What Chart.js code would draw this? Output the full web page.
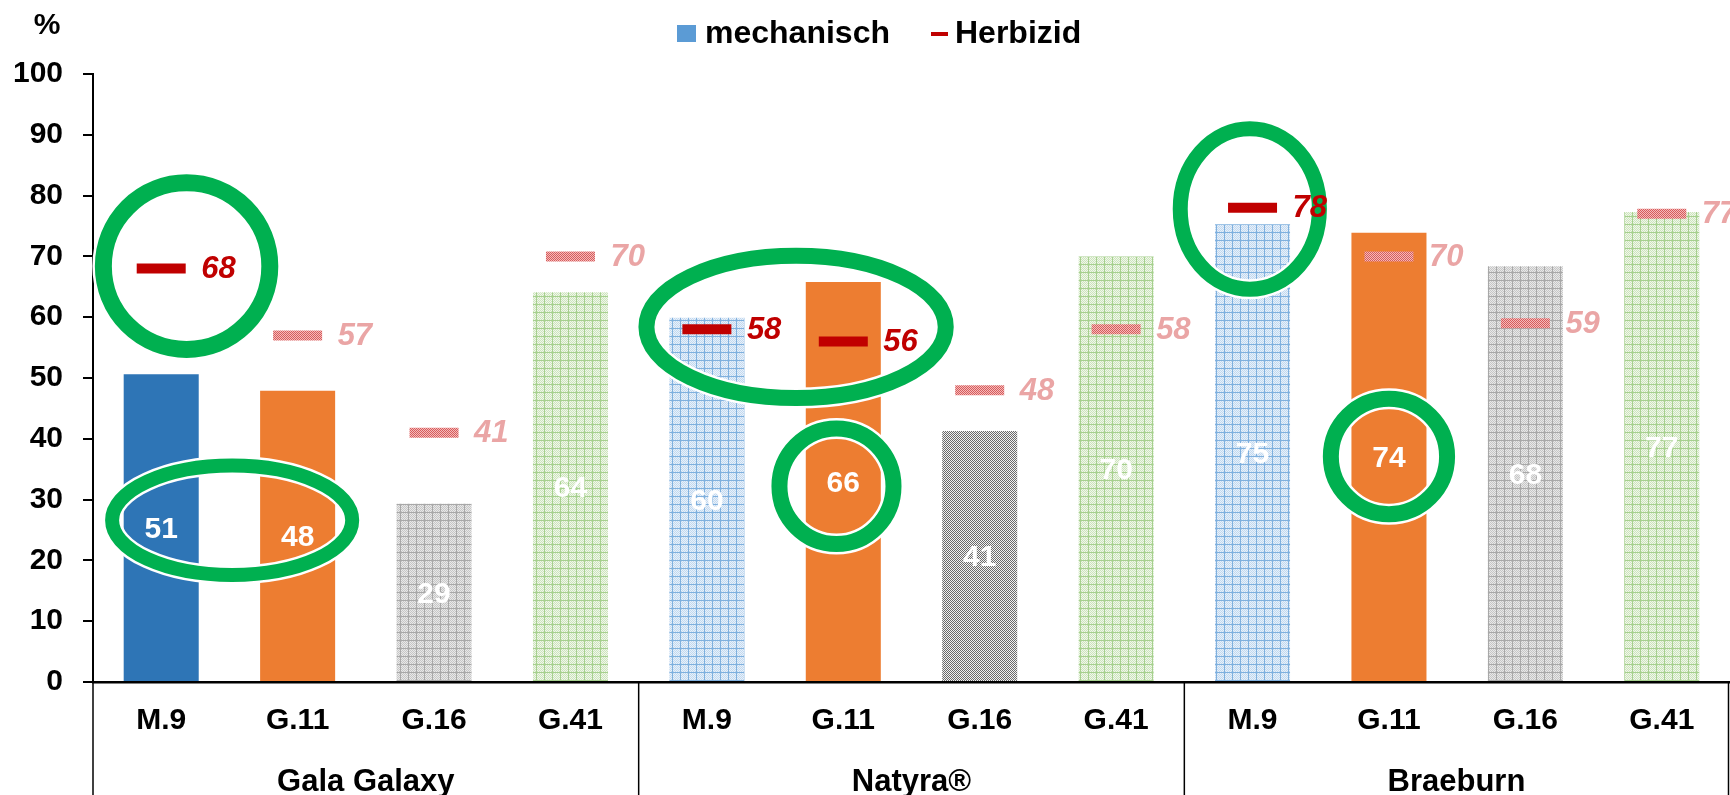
<!DOCTYPE html>
<html>
<head>
<meta charset="utf-8">
<script src="https://cdn.jsdelivr.net/npm/chart.js@4.4.0/dist/chart.umd.min.js"></script>
<style>
  html, body { margin: 0; padding: 0; background: #fff; }
  #wrap { width: 1730px; height: 795px; position: relative; }
</style>
</head>
<body>
<div id="wrap"><canvas id="chart"></canvas></div>
<script>
// data
const groups = ['Gala Galaxy', 'Natyra®', 'Braeburn'];
const rootstocks = ['M.9', 'G.11', 'G.16', 'G.41'];
const mechanisch = [50.6, 47.9, 29.3, 64.1, 59.9, 65.8, 41.3, 70.0, 75.3, 73.9, 68.4, 77.3];
const herbizid = [68, 57, 41, 70, 58, 56, 48, 58, 78, 70, 59, 77];
const highlighted = [true, false, false, false, true, true, false, false, true, false, false, false];

// fill style of each bar
const barFills = ['blue', 'orange', 'gray', 'green', 'blueP', 'orange', 'checker', 'green', 'blueP', 'orange', 'gray', 'green'];

// green marker ellipses (x in category index, y in %)
const rings = [
  { x: 0.186, y: 68.4, rx: 0.61, ry: 13.7, w: 17 },
  { x: 0.52, y: 26.6, rx: 0.88, ry: 9.0, w: 14 },
  { x: 4.654, y: 58.4, rx: 1.097, ry: 11.7, w: 16 },
  { x: 4.95, y: 32.2, rx: 0.418, ry: 9.5, w: 16 },
  { x: 7.98, y: 77.8, rx: 0.51, ry: 13.2, w: 15 },
  { x: 9.0, y: 37.1, rx: 0.426, ry: 9.5, w: 16 }
];

const labels = [];
groups.forEach(g => rootstocks.forEach(r => labels.push(r)));

const FONT = '"Liberation Sans", Arial, sans-serif';
const RED = '#C00000';
const RED_FADED = '#EAA5A5';
const GREEN_RING = '#00B050';

const ctx = document.getElementById('chart').getContext('2d');

function gridPattern(bg, dot, line) {
  const c = document.createElement('canvas');
  c.width = c.height = 8;
  const g = c.getContext('2d');
  g.fillStyle = bg;
  g.fillRect(0, 0, 8, 8);
  g.fillStyle = dot;
  for (let i = 0; i < 8; i++) {
    for (let j = 0; j < 8; j++) {
      if ((i + j) % 2 === 0) g.fillRect(i, j, 1, 1);
    }
  }
  g.fillStyle = line;
  g.fillRect(0, 0, 8, 1);
  g.fillRect(0, 0, 1, 8);
  return ctx.createPattern(c, 'repeat');
}

function checkerPattern(a, b) {
  const c = document.createElement('canvas');
  c.width = c.height = 2;
  const g = c.getContext('2d');
  g.fillStyle = b;
  g.fillRect(0, 0, 2, 2);
  g.fillStyle = a;
  g.fillRect(0, 0, 1, 1);
  g.fillRect(1, 1, 1, 1);
  return ctx.createPattern(c, 'repeat');
}

const fills = {
  blue: '#2E75B6',
  orange: '#ED7D31',
  gray: gridPattern('#e8e8e8', '#c6c6c6', '#a8a8a8'),
  green: gridPattern('#f0f7ea', '#cde4bd', '#a6d08e'),
  blueP: gridPattern('#e8f0fa', '#c2d9ef', '#7fb0de'),
  checker: checkerPattern('#6a6a6a', '#f2f2f2')
};
const fadedDash = checkerPattern('#d65c5c', '#f5baba');

const barColors = barFills.map(f => fills[f]);
const dashColors = highlighted.map(h => h ? RED : fadedDash);

const chartPlugin = {
  id: 'extras',
  afterDatasetsDraw(chart) {
    const c = chart.ctx;
    const xs = chart.scales.x, ys = chart.scales.y;
    const x0 = xs.getPixelForValue(0);
    const cw = xs.getPixelForValue(1) - x0;
    const uh = ys.getPixelForValue(0) - ys.getPixelForValue(1);
    c.save();
    rings.forEach(r => {
      const cx = x0 + r.x * cw;
      const cy = ys.getPixelForValue(r.y);
      c.beginPath();
      c.ellipse(cx, cy, r.rx * cw, r.ry * uh, 0, 0, Math.PI * 2);
      c.strokeStyle = '#ffffff';
      c.lineWidth = r.w + 5;
      c.stroke();
      c.strokeStyle = GREEN_RING;
      c.lineWidth = r.w;
      c.stroke();
    });
    c.restore();
  },
  afterDraw(chart) {
    const c = chart.ctx;
    const xs = chart.scales.x;
    const area = chart.chartArea;
    c.save();

    // value labels on bars
    const barMeta = chart.getDatasetMeta(0);
    c.font = 'bold 30px ' + FONT;
    c.fillStyle = '#ffffff';
    c.textAlign = 'center';
    c.textBaseline = 'middle';
    barMeta.data.forEach((el, i) => {
      c.fillText(String(Math.round(mechanisch[i])), el.x, (el.y + el.base) / 2 + 2);
    });

    // labels of the herbicide markers
    const lineMeta = chart.getDatasetMeta(1);
    c.font = 'italic bold 31px ' + FONT;
    c.textAlign = 'left';
    lineMeta.data.forEach((el, i) => {
      c.fillStyle = highlighted[i] ? RED : RED_FADED;
      c.fillText(String(herbizid[i]), el.x + 40, el.y + 1);
    });

    // group separators and group names
    const cw = xs.getPixelForValue(1) - xs.getPixelForValue(0);
    c.strokeStyle = '#000';
    c.lineWidth = 1.5;
    const bottom = chart.height;
    const edges = [];
    for (let g = 0; g <= groups.length; g++) {
      let x = xs.getPixelForValue(g * rootstocks.length) - cw / 2;
      if (g === groups.length) x = Math.min(x, chart.width - 1.5);
      edges.push(x);
      c.beginPath();
      c.moveTo(x, area.bottom);
      c.lineTo(x, bottom);
      c.stroke();
    }
    c.fillStyle = '#000';
    c.font = 'bold 31px ' + FONT;
    c.textAlign = 'center';
    groups.forEach((g, i) => {
      c.fillText(g, (edges[i] + edges[i + 1]) / 2, 782);
    });

    // unit label
    c.font = 'bold 30px ' + FONT;
    c.fillText('%', 47, 26);

    // legend
    c.font = 'bold 32px ' + FONT;
    c.textAlign = 'left';
    c.fillStyle = '#5B9BD5';
    c.fillRect(677, 25, 19, 17);
    c.fillStyle = '#000';
    c.fillText('mechanisch', 705, 34);
    c.fillStyle = RED;
    c.fillRect(931, 32, 17, 4);
    c.fillStyle = '#000';
    c.fillText('Herbizid', 955, 34);

    c.restore();
  }
};

new Chart(ctx, {
  data: {
    labels: labels,
    datasets: [
      {
        type: 'bar',
        label: 'mechanisch',
        data: mechanisch,
        backgroundColor: barColors,
        borderWidth: 0,
        categoryPercentage: 1,
        barPercentage: 0.55,
        order: 2
      },
      {
        type: 'line',
        label: 'Herbizid',
        data: herbizid,
        showLine: false,
        pointStyle: 'line',
        pointRadius: 24.5,
        pointHoverRadius: 24.5,
        pointBorderWidth: 10,
        pointHoverBorderWidth: 10,
        pointBorderColor: dashColors,
        pointBackgroundColor: dashColors,
        clip: false,
        order: 1
      }
    ]
  },
  options: {
    responsive: true,
    maintainAspectRatio: false,
    animation: false,
    events: [],
    layout: { autoPadding: false, padding: { top: 74, right: 0, left: 0, bottom: 0 } },
    plugins: {
      legend: { display: false },
      tooltip: { enabled: false }
    },
    scales: {
      x: {
        offset: true,
        grid: { display: false, drawTicks: false },
        border: { display: true, color: '#000', width: 2.5 },
        ticks: {
          color: '#000',
          padding: 21,
          maxRotation: 0,
          autoSkip: false,
          font: { family: FONT, size: 30, weight: 'bold' }
        },
        afterFit: s => {
          s.height = 113;
          s.paddingLeft = 0;
          s.paddingRight = 0;
        }
      },
      y: {
        min: 0,
        max: 100,
        ticks: {
          stepSize: 10,
          padding: 20,
          color: '#000',
          font: { family: FONT, size: 30, weight: 'bold' }
        },
        grid: {
          drawOnChartArea: false,
          drawTicks: true,
          tickLength: 10,
          color: '#000',
          lineWidth: 2
        },
        border: { display: true, color: '#000', width: 2 },
        afterFit: s => { s.width = 93; }
      }
    }
  },
  plugins: [chartPlugin]
});
</script>
</body>
</html>
